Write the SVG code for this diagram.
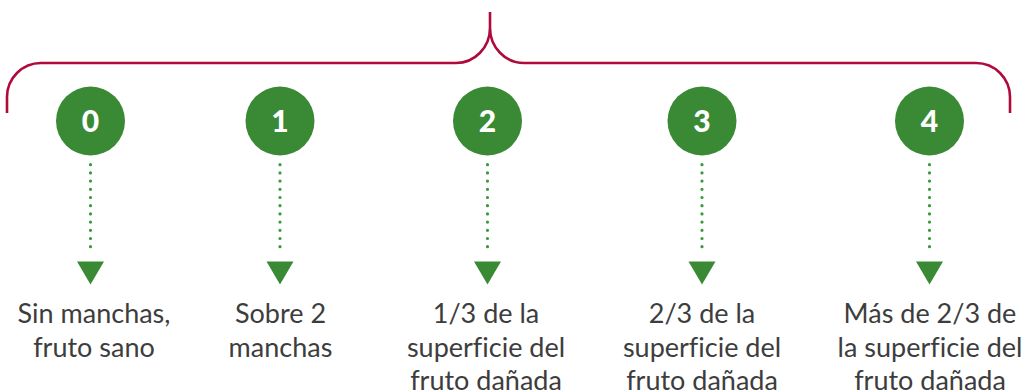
<svg xmlns="http://www.w3.org/2000/svg" width="1025" height="391" viewBox="0 0 1025 391">
<style>
.brace{fill:none;stroke:#b00a3c;stroke-width:2.6}
.badge{fill:#3a8a35}
.num{fill:#ffffff;font-family:Lato,"Liberation Sans",sans-serif;font-weight:900;font-size:30px;text-anchor:middle}
.dots{stroke:#3a9a3a;stroke-width:3.2;stroke-linecap:round;stroke-dasharray:0 8.2;fill:none}
.head{fill:#3a8a35}
.lbl{fill:#3d3d3d;font-family:Lato,"Liberation Sans",sans-serif;font-size:27px;text-anchor:middle;font-variant-ligatures:none}
</style>
<rect width="1025" height="391" fill="#ffffff"/>
<g id="brace">
<path class="brace" d="M7,113 V97 A34,34 0 0 1 41,63 H456 A34,35 0 0 0 490,28 V12 M490,28 A34,35 0 0 0 524,63 H976 A34,34 0 0 1 1010,97 V113"/>
</g>
<g id="connectors">
<line class="dots" x1="90.5" y1="164.7" x2="90.5" y2="247"/>
<polygon class="head" points="77,261.5 104,261.5 90.5,284.5"/>
<line class="dots" x1="280" y1="164.7" x2="280" y2="247"/>
<polygon class="head" points="266.5,261.5 293.5,261.5 280,284.5"/>
<line class="dots" x1="487.5" y1="164.7" x2="487.5" y2="247"/>
<polygon class="head" points="474,261.5 501,261.5 487.5,284.5"/>
<line class="dots" x1="702" y1="164.7" x2="702" y2="247"/>
<polygon class="head" points="688.5,261.5 715.5,261.5 702,284.5"/>
<line class="dots" x1="929.5" y1="164.7" x2="929.5" y2="247"/>
<polygon class="head" points="916,261.5 943,261.5 929.5,284.5"/>
</g>
<g id="node-0">
<circle class="badge" cx="90.5" cy="121" r="34.5"/>
<text class="num" x="90.5" y="131.5">0</text>
<text class="lbl" x="94" y="322.5">Sin manchas,</text>
<text class="lbl" x="94" y="356.5">fruto sano</text>
</g>
<g id="node-1">
<circle class="badge" cx="280" cy="121" r="34.5"/>
<text class="num" x="280" y="131.5">1</text>
<text class="lbl" x="280.5" y="322.5">Sobre 2</text>
<text class="lbl" x="280.5" y="356.5">manchas</text>
</g>
<g id="node-2">
<circle class="badge" cx="487.5" cy="121" r="34.5"/>
<text class="num" x="487.5" y="131.5">2</text>
<text class="lbl" x="486" y="322.5">1/3 de la</text>
<text class="lbl" x="486" y="356.5">superficie del</text>
<text class="lbl" x="486" y="389.5">fruto dañada</text>
</g>
<g id="node-3">
<circle class="badge" cx="702" cy="121" r="34.5"/>
<text class="num" x="702" y="131.5">3</text>
<text class="lbl" x="702" y="322.5">2/3 de la</text>
<text class="lbl" x="702" y="356.5">superficie del</text>
<text class="lbl" x="702" y="389.5">fruto dañada</text>
</g>
<g id="node-4">
<circle class="badge" cx="929.5" cy="121" r="34.5"/>
<text class="num" x="929.5" y="131.5">4</text>
<text class="lbl" x="930" y="322.5">Más de 2/3 de</text>
<text class="lbl" x="930" y="356.5">la superficie del</text>
<text class="lbl" x="930" y="389.5">fruto dañada</text>
</g>
</svg>
